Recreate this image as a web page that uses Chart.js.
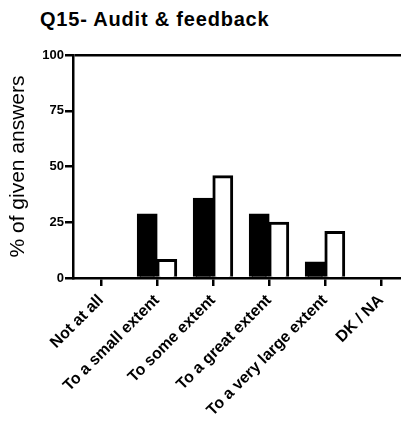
<!DOCTYPE html>
<html>
<head>
<meta charset="utf-8">
<script src="https://cdn.jsdelivr.net/npm/chart.js@4/dist/chart.umd.min.js"></script>
<style>
  html, body { margin: 0; padding: 0; background: #fff; overflow: hidden; }
  #wrap { position: relative; width: 401px; height: 421px; overflow: hidden; }
  #title {
    position: absolute; left: 40px; top: 9px;
    font: bold 20px/20px "Liberation Sans", Arial, sans-serif;
    letter-spacing: 0.8px;
    color: #000; white-space: nowrap;
  }
  #box { position: absolute; left: 0; top: 0; width: 409px; height: 421px; }
</style>
</head>
<body>
<div id="wrap">
  <div id="title">Q15- Audit &amp; feedback</div>
  <div id="box"><canvas id="chart"></canvas></div>
</div>
<script>
const categories = ['Not at all', 'To a small extent', 'To some extent', 'To a great extent', 'To a very large extent', 'DK / NA'];
const filledValues = [0, 28.6, 35.7, 28.6, 7.1, 0];
const openValues = [0, 8.3, 45.8, 25, 20.8, 0];
const yTicks = [0, 25, 50, 75, 100];

const font = '"Liberation Sans", Arial, sans-serif';

new Chart(document.getElementById('chart'), {
  type: 'bar',
  data: {
    labels: categories,
    datasets: [
      { data: filledValues, backgroundColor: '#000', borderColor: '#000', borderWidth: 3, inflateAmount: 0.6 },
      { data: openValues, backgroundColor: '#fff', borderColor: '#000', borderWidth: 3, inflateAmount: 0.6 }
    ]
  },
  options: {
    responsive: true,
    maintainAspectRatio: false,
    animation: false,
    layout: { padding: { top: 55, left: 0, right: 0, bottom: 0 } },
    datasets: { bar: { categoryPercentage: 0.7, barPercentage: 1.0 } },
    plugins: {
      legend: { display: false },
      tooltip: { enabled: false }
    },
    scales: {
      x: {
        afterFit: (s) => { s.height = 143; },
        border: { display: true, color: '#000', width: 2.5 },
        grid: { display: true, drawOnChartArea: false, offset: false, tickLength: 8, color: '#000', lineWidth: 2.5 },
        ticks: {
          maxRotation: 45, minRotation: 45, padding: 5, color: '#000',
          font: { family: font, size: 16, weight: 'bold' }
        }
      },
      y: {
        min: 0, max: 100,
        afterFit: (s) => { s.width = 73; },
        afterBuildTicks: (s) => { s.ticks = yTicks.map(v => ({ value: v })); },
        border: { display: true, color: '#000', width: 2.5 },
        grid: {
          drawOnChartArea: true,
          color: (ctx) => (ctx.tick && ctx.tick.value === 100 ? '#000' : 'rgba(0,0,0,0)'),
          tickColor: '#000',
          lineWidth: 2.5,
          tickLength: 8
        },
        ticks: { padding: 1, color: '#000', font: { family: font, size: 13, weight: 'bold' } },
        title: {
          display: true, text: '% of given answers', color: '#000',
          padding: { top: 6, bottom: 0 },
          font: { family: font, size: 21 }
        }
      }
    }
  }
});
</script>
</body>
</html>
